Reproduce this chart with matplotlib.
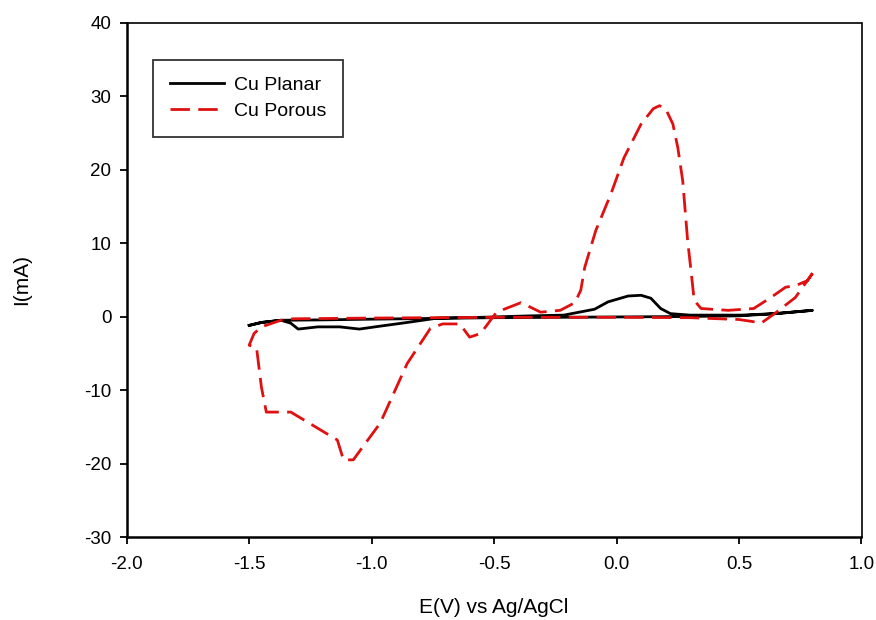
import matplotlib
matplotlib.use("Agg")
import matplotlib.pyplot as plt

plt.rcParams['font.family'] = ['Liberation Sans', 'DejaVu Sans']
plt.rcParams['axes.unicode_minus'] = False

# Cu Planar loop (E in V vs Ag/AgCl, I in mA)
planar_e = [-1.50, -1.45, -1.37, -1.33, -1.30, -1.22, -1.13, -1.05, -0.965, -0.855,
            -0.73, -0.555, -0.35, -0.215, -0.09, -0.035, 0.047, 0.10, 0.14, 0.18,
            0.22, 0.30, 0.51, 0.645, 0.80,
            0.65, 0.50, 0.25, 0.0, -0.25, -0.50, -0.75, -1.00, -1.20, -1.37, -1.45, -1.50]
planar_i = [-1.2, -0.8, -0.5, -0.9, -1.7, -1.4, -1.4, -1.7, -1.3, -0.8,
            -0.2, -0.1, 0.1, 0.2, 1.0, 2.0, 2.8, 2.9, 2.5, 1.1,
            0.4, 0.2, 0.2, 0.4, 0.85,
            0.4, 0.1, 0.0, -0.05, -0.1, -0.15, -0.25, -0.35, -0.45, -0.5, -0.8, -1.2]

# Cu Porous loop
porous_e = [0.80, 0.78, 0.73, 0.69, 0.63, 0.56, 0.456, 0.345, 0.317, 0.305,
            0.29, 0.27, 0.25, 0.23, 0.20, 0.175, 0.15, 0.10, 0.03, -0.023,
            -0.085, -0.13, -0.146, -0.17, -0.23, -0.31, -0.39, -0.49, -0.555, -0.60,
            -0.64, -0.71, -0.76, -0.855, -0.965, -1.075, -1.115, -1.14, -1.33, -1.43,
            -1.45, -1.47, -1.50, -1.48, -1.45, -1.37, -1.32, -1.0, -0.5, 0.0,
            0.3, 0.50, 0.56, 0.59, 0.645, 0.73, 0.80]
porous_i = [5.9, 4.9, 4.2, 4.0, 2.6, 1.1, 0.85, 1.1, 2.2, 5.9,
            10.4, 18.5, 23.0, 26.2, 28.3, 28.7, 28.3, 26.2, 21.6, 16.7,
            11.7, 6.7, 3.6, 1.9, 0.85, 0.6, 1.9, 0.6, -2.3, -2.8,
            -1.0, -1.0, -1.6, -6.4, -14.5, -19.5, -19.5, -16.8, -13.0, -13.0,
            -9.6, -4.2, -3.9, -2.3, -1.4, -0.5, -0.3, -0.2, -0.1, -0.1,
            -0.15, -0.4, -0.7, -0.9, 0.4, 2.6, 5.9]

x_ticks = [-2.0, -1.5, -1.0, -0.5, 0.0, 0.5, 1.0]
y_ticks = [-30, -20, -10, 0, 10, 20, 30, 40]

fig = plt.figure(figsize=(8.76, 6.2), dpi=100)
ax = fig.add_axes([126.7 / 876, 1 - 537 / 620, (861.5 - 126.7) / 876, (537 - 22.7) / 620])

ax.plot(planar_e, planar_i, color='black', lw=2.0, label='Cu Planar')
ax.plot(porous_e, porous_i, color='#e01010', lw=2.0, dashes=(7, 3), label='Cu Porous')

ax.set_xlim(-2.0, 1.0)
ax.set_ylim(-30, 40)
ax.set_xticks(x_ticks)
ax.set_xticklabels([f'{v:.1f}' for v in x_ticks])
ax.set_yticks(y_ticks)
ax.tick_params(direction='out', length=5, width=1.3, labelsize=13.5, pad=6)
ax.tick_params(axis='x', pad=9)

for side in ['left', 'bottom']:
    ax.spines[side].set_linewidth(1.8)
for side in ['top', 'right']:
    ax.spines[side].set_linewidth(1.2)

ax.set_xlabel('E(V) vs Ag/AgCl', fontsize=15, labelpad=18)
ax.set_ylabel('I(mA)', fontsize=15, labelpad=38)

leg = ax.legend(loc='upper left', bbox_to_anchor=(0.036, 0.928), fontsize=14,
                frameon=True, fancybox=False, edgecolor='black', handlelength=2.8,
                borderpad=0.85, labelspacing=0.45, handletextpad=0.5, borderaxespad=0)
leg.get_frame().set_linewidth(1.3)

fig.savefig('out.png', dpi=100)
